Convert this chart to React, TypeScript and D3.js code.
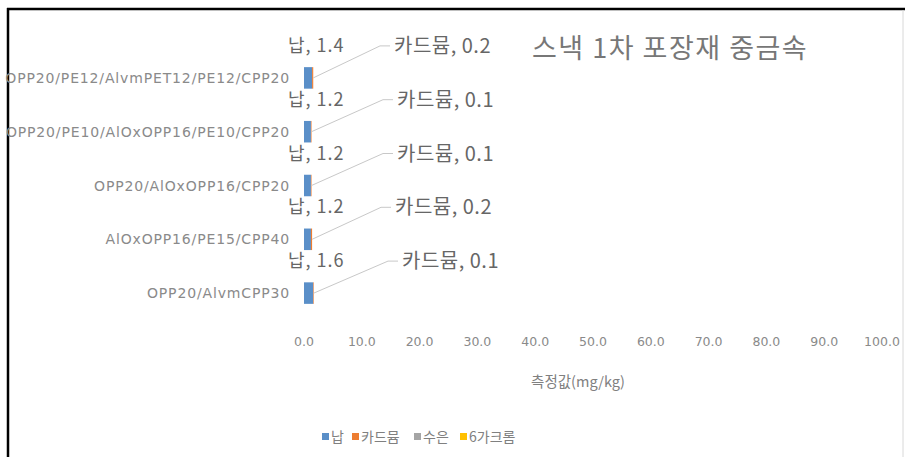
import React from "react";
import * as d3 from "d3";

const categories = [
  "OPP20/PE12/AlvmPET12/PE12/CPP20",
  "OPP20/PE10/AlOxOPP16/PE10/CPP20",
  "OPP20/AlOxOPP16/CPP20",
  "AlOxOPP16/PE15/CPP40",
  "OPP20/AlvmCPP30",
];
const lead = [1.4, 1.2, 1.2, 1.2, 1.6];
const cadmium = [0.2, 0.1, 0.1, 0.2, 0.1];
const mercury = [0, 0, 0, 0, 0];
const chromium = [0, 0, 0, 0, 0];
const seriesNames = ["납", "카드뮴", "수은", "6가크롬"];
const seriesColors = ["#5a8fc8", "#ED7D31", "#A5A5A5", "#FFC000"];
const xTicks = [0, 10, 20, 30, 40, 50, 60, 70, 80, 90, 100];
const title = "스낵 1차 포장재 중금속";
const axisTitle = "측정값(mg/kg)";

const W = 905;
const H = 457;
const KR = "'Noto Sans CJK KR', 'Noto Sans', sans-serif";
const LAT = "'DejaVu Sans', sans-serif";

export default function App() {
  const x = d3.scaleLinear().domain([0, 100]).range([304, 882]);
  const y = d3
    .scaleBand<string>()
    .domain(categories)
    .range([51, 320])
    .paddingInner(0.6)
    .paddingOuter(0.3);

  const series = [lead, cadmium, mercury, chromium];
  const stack = d3
    .stack<number>()
    .keys(["0", "1", "2", "3"])
    .value((i, k) => series[+k][i]);
  const stacked = stack(categories.map((_, i) => i));

  const labelOffsetY = -32;
  const cadLabelDx = [90, 93, 93, 91, 98];

  return (
    <svg
      width={W}
      height={H}
      style={{ position: "absolute", left: 0, top: 0, background: "#fff" }}
    >
      <rect x={0} y={0} width={W} height={H} fill="#fff" />
      {/* frame */}
      <line x1={7} x2={W} y1={9} y2={9} stroke="#000" strokeWidth={2.5} />
      <line x1={8} x2={8} y1={8} y2={H} stroke="#000" strokeWidth={2.5} />
      <line x1={903} x2={903} y1={10} y2={H} stroke="#d8d8d8" strokeWidth={1} />

      {/* title */}
      <text
        x={532}
        y={58}
        fontFamily={KR}
        fontSize={27}
        letterSpacing={1.5}
        fill="#777"
      >
        {title}
      </text>

      {/* bars */}
      {stacked.map((s, si) =>
        s.map((d, i) => {
          const w = x(d[1]) - x(d[0]);
          if (w <= 0) return null;
          return (
            <rect
              key={`${si}-${i}`}
              x={x(d[0])}
              y={y(categories[i])!}
              width={w}
              height={y.bandwidth()}
              fill={seriesColors[si]}
            />
          );
        })
      )}

      {/* category labels */}
      {categories.map((c) => (
        <text
          key={c}
          x={290}
          y={y(c)! + y.bandwidth() / 2 + 5}
          textAnchor="end"
          fontFamily={LAT}
          fontSize={14}
          letterSpacing={0.85}
          fill="#8a8a8a"
        >
          {c}
        </text>
      ))}

      {/* data labels */}
      {categories.map((c, i) => {
        const cy = y(c)! + y.bandwidth() / 2;
        const ly = cy + labelOffsetY;
        const total = lead[i] + cadmium[i];
        const cadX = x(0) + cadLabelDx[i];
        return (
          <g key={"lbl" + c}>
            <text
              x={x(0) - 16}
              y={ly + 6}
              fontFamily={KR}
              fontSize={18}
              letterSpacing={1}
              fill="#666"
            >
              {`${seriesNames[0]}, ${lead[i].toFixed(1)}`}
            </text>
            <polyline
              points={`${x(total)},${cy} ${cadX - 14},${ly} ${cadX - 4},${ly}`}
              fill="none"
              stroke="#c8c8c8"
              strokeWidth={1}
            />
            <text
              x={cadX}
              y={ly + 7}
              fontFamily={KR}
              fontSize={20}
              letterSpacing={0.5}
              fill="#666"
            >
              {`${seriesNames[1]}, ${cadmium[i].toFixed(1)}`}
            </text>
          </g>
        );
      })}

      {/* x axis ticks */}
      {xTicks.map((t) => (
        <text
          key={t}
          x={x(t)}
          y={346}
          textAnchor="middle"
          fontFamily={LAT}
          fontSize={12.5}
          fill="#8a8a8a"
        >
          {t.toFixed(1)}
        </text>
      ))}
      <text
        x={578}
        y={387}
        textAnchor="middle"
        fontFamily={KR}
        fontSize={14.5}
        fill="#808080"
      >
        {axisTitle}
      </text>

      {/* legend */}
      {(() => {
        const items = [322, 352, 414, 460];
        return seriesNames.map((n, i) => (
          <g key={n}>
            <rect
              x={items[i]}
              y={433}
              width={7}
              height={7}
              fill={seriesColors[i]}
            />
            <text
              x={items[i] + 9}
              y={442}
              fontFamily={KR}
              fontSize={14}
              fill="#808080"
            >
              {n}
            </text>
          </g>
        ));
      })()}
    </svg>
  );
}
